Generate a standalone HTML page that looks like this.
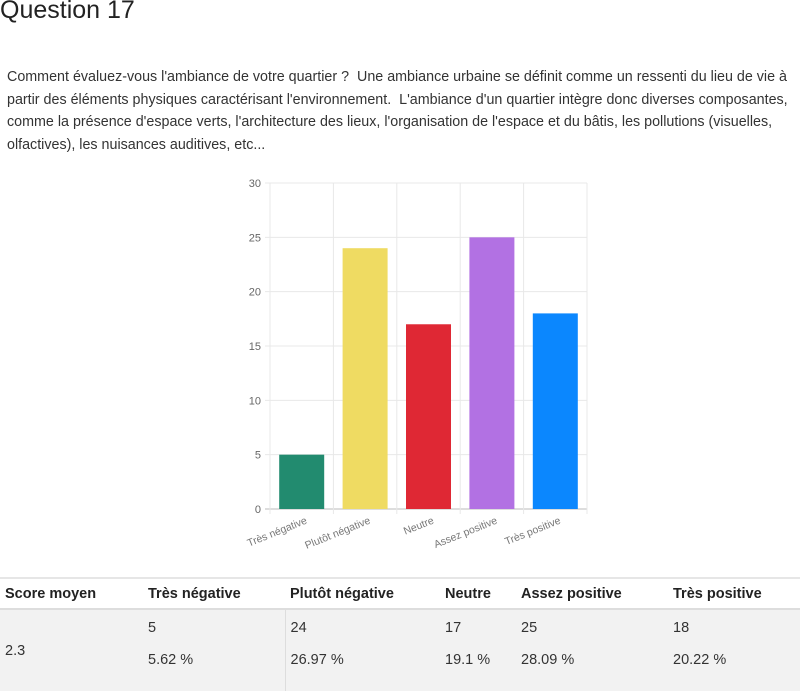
<!DOCTYPE html>
<html><head><meta charset="utf-8"><style>
body{margin:0;width:800px;height:690px;background:#fff;font-family:"Liberation Sans",sans-serif;color:#333;position:relative;overflow:hidden}
h1{position:absolute;left:0;top:-4px;margin:0;font-weight:normal;font-size:25px;color:#222}
p{position:absolute;left:7px;top:66px;width:790px;margin:0;font-size:14.3px;line-height:22.5px;color:#333}
table{position:absolute;left:0;top:577px;width:800px;border-collapse:collapse;font-size:14.5px}
th{text-align:left;font-weight:bold;height:29px;padding:0 5px;border-top:2px solid #e6e6e6;border-bottom:2px solid #ddd;color:#222}
td{background:#f2f2f2;padding:0 5px;vertical-align:top;color:#333}
</style></head><body>
<h1>Question 17</h1>
<p>Comment évaluez-vous l'ambiance de votre quartier ?&nbsp; Une ambiance urbaine se définit comme un ressenti du lieu de vie à partir des éléments physiques caractérisant l'environnement.&nbsp; L'ambiance d'un quartier intègre donc diverses composantes, comme la présence d'espace verts, l'architecture des lieux, l'organisation de l'espace et du bâtis, les pollutions (visuelles, olfactives), les nuisances auditives, etc...</p>
<svg id="chart" width="800" height="570" style="position:absolute;left:0;top:0"></svg>
<table>
<tr><th style="width:133px">Score moyen</th><th style="width:132px">Très négative</th><th style="width:145px">Plutôt négative</th><th style="width:66px">Neutre</th><th style="width:142px">Assez positive</th><th>Très positive</th></tr>
<tr style="height:82px"><td style="vertical-align:middle">2.3</td>
<td style="padding-top:10px">5<br><br>5.62 %</td>
<td style="padding-top:10px;border-left:1px solid #ddd">24<br><br>26.97 %</td>
<td style="padding-top:10px">17<br><br>19.1 %</td>
<td style="padding-top:10px">25<br><br>28.09 %</td>
<td style="padding-top:10px">18<br><br>20.22 %</td></tr>
</table>
<script>
const categories=["Très négative","Plutôt négative","Neutre","Assez positive","Très positive"];
const values=[5,24,17,25,18];
const colors=["#228b6f","#efdb62","#df2834","#b271e3","#0b87fe"];
const ticks=[0,5,10,15,20,25,30];
const svg=document.getElementById('chart');const NS="http://www.w3.org/2000/svg";
const L=270,R=587,T=183,B=509,maxV=30;
const y=v=>B-(B-T)*v/maxV;const cw=(R-L)/categories.length;const x=i=>L+cw*i;
function mk(t,a){const e=document.createElementNS(NS,t);for(const k in a)e.setAttribute(k,a[k]);svg.appendChild(e);return e;}
ticks.forEach(t=>{const g=mk('line',{x1:L-5,x2:R,y1:y(t),y2:y(t),stroke:t===0?'#bbb':'#e8e8e8'});


const tx=mk('text',{x:L-9,y:y(t)+4,'text-anchor':'end','font-size':11,fill:'#666','font-family':'Liberation Sans'});tx.textContent=t;

});
for(let i=0;i<=categories.length;i++){const g=mk('line',{x1:x(i),x2:x(i),y1:T,y2:B+5,stroke:'#e8e8e8'});

}
values.forEach((v,i)=>{const bw=45;const r=mk('rect',{x:x(i)+(cw-bw)/2,y:y(v),width:bw,height:B-y(v),fill:colors[i]});


const cx=x(i)+cw/2+6;const t=mk('text',{x:cx,y:B+14,'text-anchor':'end','font-size':10.5,fill:'#777','font-family':'Liberation Sans',transform:`rotate(-22 ${cx} ${B+14})`});t.textContent=categories[i];

});
</script>
</body></html>
